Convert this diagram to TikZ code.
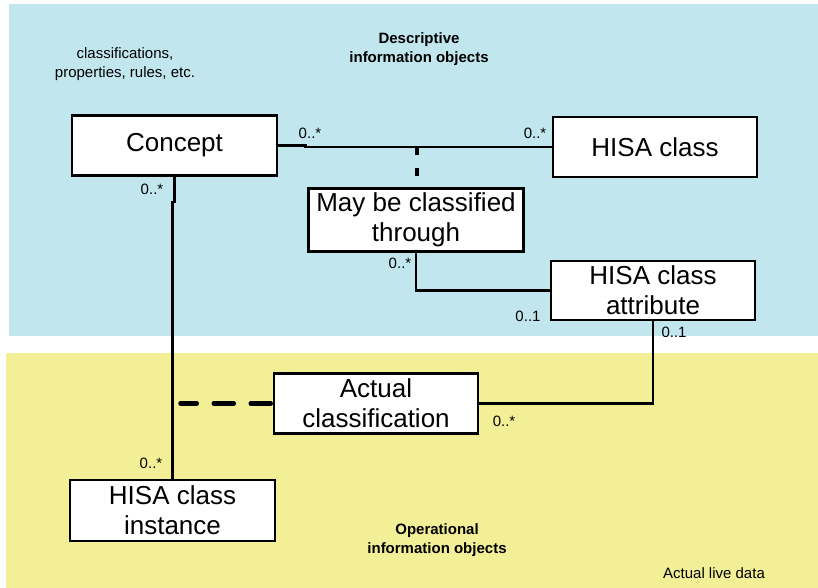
\documentclass[tikz,border=0pt]{standalone}
\usepackage{fontspec}
\setmainfont{Liberation Sans}
\definecolor{descblue}{RGB}{193,230,238}
\definecolor{opyellow}{RGB}{243,239,151}
\begin{document}
\begin{tikzpicture}[x=1pt,y=-1pt,
  box/.style={draw=black,line width=2.5pt,fill=white,inner sep=0pt,align=center,
    font=\fontsize{26}{30}\selectfont},
  lbl/.style={inner sep=0pt,font=\fontsize{15}{18}\selectfont},
  note/.style={inner sep=0pt,align=center,font=\fontsize{15}{19}\selectfont},
  conn/.style={line width=2.5pt},
  dashconn/.style={line width=4.5pt,line cap=round,dash pattern=on 20pt off 17pt}]
\useasboundingbox (0,0) rectangle (818,588);
\fill[descblue] (9,4) rectangle (818,336);
\fill[opyellow] (6,353) rectangle (818,588);

\node[note] (cls) at (125,64) {classifications,\\properties, rules, etc.};
\node[note,font=\bfseries\fontsize{15}{19}\selectfont] (desc) at (419,49) {Descriptive\\information objects};
\node[note,font=\bfseries\fontsize{15}{19}\selectfont] (oper) at (437,540) {Operational\\information objects};
\node[note] (live) at (714,573) {Actual live data};

\node[box,minimum width=205pt,minimum height=60pt] (concept) at (174.5,145.5) {Concept};
\node[box,minimum width=204pt,minimum height=60pt] (hisa) at (655,147) {HISA class};
\node[box,minimum width=215pt,minimum height=63pt] (may) at (416,220) {May be classified\\through};
\node[box,minimum width=204pt,minimum height=59pt] (attr) at (653,290.5) {HISA class\\attribute};
\node[box,minimum width=204pt,minimum height=60pt] (actual) at (376,403.5) {Actual\\classification};
\node[box,minimum width=205pt,minimum height=61pt] (inst) at (172.5,510.5) {HISA class\\instance};

% connectors
\draw[conn] (concept.east) -- ++(27,0) |- (hisa.west);
\coordinate (junc) at (417,147);
\draw[line width=4pt,dash pattern=on 8pt off 13pt] (junc) -- (may.north -| junc);
\draw[conn] (concept.south) -- ++(0,25) -| (inst.north);
\draw[conn] (may.south) |- (attr.west);
\draw[conn] (attr.south) |- (actual.east);
\coordinate (dstart) at (180.5,403.5);
\draw[dashconn] ([xshift=-2pt]actual.west) -- (dstart);

% multiplicities
\node[lbl] (m1) at (310,133) {0..*};
\node[lbl] (m2) at (535,133) {0..*};
\node[lbl] (m3) at (152,189) {0..*};
\node[lbl] (m4) at (400,263) {0..*};
\node[lbl] (m5) at (528,316) {0..1};
\node[lbl] (m6) at (674,332) {0..1};
\node[lbl] (m7) at (504,421) {0..*};
\node[lbl] (m8) at (151,463) {0..*};
\end{tikzpicture}
\end{document}
